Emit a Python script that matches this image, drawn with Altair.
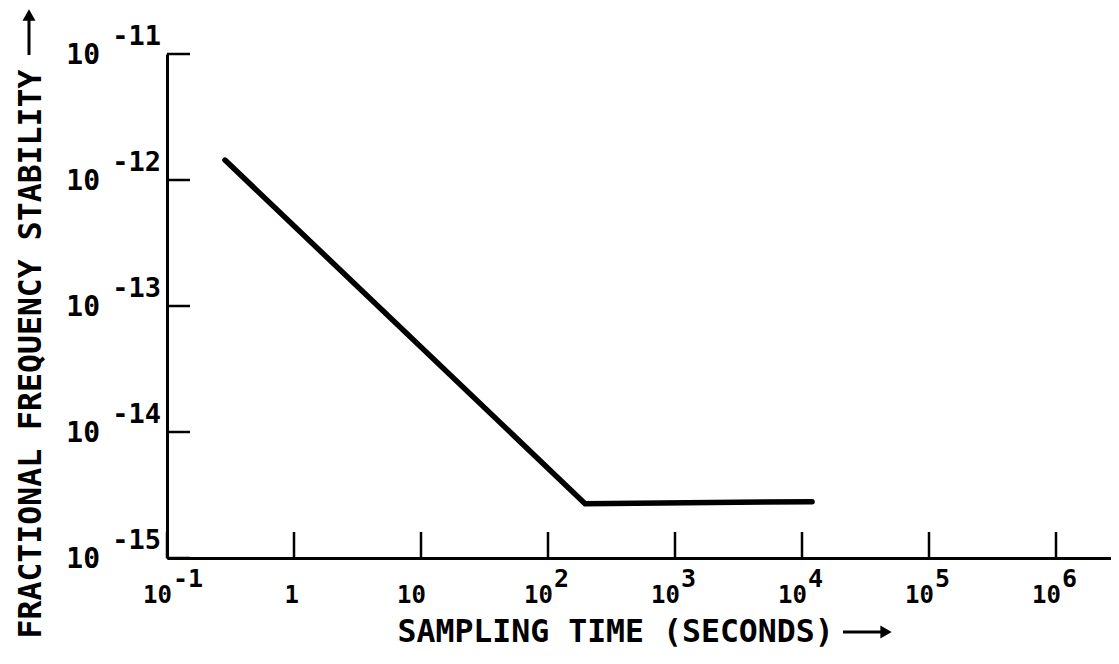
import altair as alt
import pandas as pd

# Curve
tau = [0.286, 196, 12000]
sigma = [1.44e-12, 2.7e-15, 2.8e-15]

# Axis ticks and labels
x_exps = [-1, 0, 1, 2, 3, 4, 5, 6]
x_base = ["10", "1", "10", "10", "10", "10", "10", "10"]
x_sup = ["-1", "", "", "2", "3", "4", "5", "6"]
y_exps = [-11, -12, -13, -14, -15]
y_sup = ["-11", "-12", "-13", "-14", "-15"]

W, H = 944, 504
PX_PER_DEC = 127.0
xmax = 10 ** (-1 + W / PX_PER_DEC)

FONT = "DejaVu Sans Mono"
TFS = 31.5

line_df = pd.DataFrame({"tau": tau, "sigma": sigma})
xt = pd.DataFrame({"v": [10.0 ** e for e in x_exps], "base": x_base, "sup": x_sup})
yt = pd.DataFrame({"v": [10.0 ** e for e in y_exps], "base": ["10"] * len(y_exps), "sup": y_sup})
one = pd.DataFrame({"k": [0]})

xs = alt.Scale(type="log", domain=[0.1, xmax], nice=False)
ys = alt.Scale(type="log", domain=[1e-15, 1e-11], nice=False)

xaxis = alt.Axis(labels=False, ticks=False, grid=False, domain=True, domainColor="black",
                 domainWidth=3, title="SAMPLING TIME (SECONDS)",
                 titleFont=FONT, titleFontSize=TFS, titleFontWeight="bold", titleColor="black",
                 titleX=230, titleY=74, titleAlign="left", titleBaseline="middle", titleAngle=0)
yaxis = alt.Axis(labels=False, ticks=False, grid=False, domain=True, domainColor="black",
                 domainWidth=3, title="FRACTIONAL FREQUENCY STABILITY",
                 titleFont=FONT, titleFontSize=TFS, titleFontWeight="bold", titleColor="black",
                 titleX=-136, titleY=584, titleAlign="left", titleBaseline="middle", titleAngle=270)

line = alt.Chart(line_df).mark_line(color="black", strokeWidth=5.5, strokeCap="round").encode(
    x=alt.X("tau:Q", scale=xs, axis=xaxis),
    y=alt.Y("sigma:Q", scale=ys, axis=yaxis),
)

xticks = alt.Chart(xt).mark_rule(color="black", strokeWidth=2.5).encode(
    x=alt.X("v:Q", scale=xs), y=alt.value(H), y2=alt.value(H - 26))
yticks = alt.Chart(yt).mark_rule(color="black", strokeWidth=2.5).encode(
    y=alt.Y("v:Q", scale=ys), x=alt.value(0), x2=alt.value(23))

xlab = alt.Chart(xt).mark_text(align="right", baseline="middle", dx=5, font=FONT,
                               fontSize=24, fontWeight="bold", color="black").encode(
    x=alt.X("v:Q", scale=xs), y=alt.value(H + 38), text="base:N")
xsup = alt.Chart(xt).transform_filter("datum.sup != ''").mark_text(
    align="left", baseline="middle", dx=6, font=FONT, fontSize=25, fontWeight="bold",
    color="black").encode(x=alt.X("v:Q", scale=xs), y=alt.value(H + 21), text="sup:N")

ylab = alt.Chart(yt).mark_text(align="right", baseline="middle", dy=2, font=FONT,
                               fontSize=28, fontWeight="bold", color="black").encode(
    y=alt.Y("v:Q", scale=ys), x=alt.value(-67), text="base:N")
ysup = alt.Chart(yt).mark_text(align="right", baseline="middle", dy=-17, font=FONT,
                               fontSize=27, fontWeight="bold", color="black").encode(
    y=alt.Y("v:Q", scale=ys), x=alt.value(-6), text="sup:N")

# title arrows
xarrow_shaft = alt.Chart(one).mark_rule(color="black", strokeWidth=3).encode(
    x=alt.value(676), x2=alt.value(716), y=alt.value(H + 74))
xarrow_head = alt.Chart(one).mark_point(shape="triangle-right", filled=True, color="black",
                                        size=170, opacity=1).encode(
    x=alt.value(719), y=alt.value(H + 74))
yarrow_shaft = alt.Chart(one).mark_rule(color="black", strokeWidth=3).encode(
    x=alt.value(-138), y=alt.value(1), y2=alt.value(-36))
yarrow_head = alt.Chart(one).mark_point(shape="triangle-up", filled=True, color="black",
                                        size=170, opacity=1).encode(
    x=alt.value(-138), y=alt.value(-39))

chart = alt.layer(line, xticks, yticks, xlab, xsup, ylab, ysup,
                  xarrow_shaft, xarrow_head, yarrow_shaft, yarrow_head).properties(
    width=W, height=H,
    background="white",
    autosize=alt.AutoSizeParams(type="none"),
    padding={"left": 159, "top": 46, "right": 0, "bottom": 100},
).configure_view(strokeWidth=0, stroke="transparent")

chart.save("out.html", embed_options={"renderer": "svg", "actions": False})
